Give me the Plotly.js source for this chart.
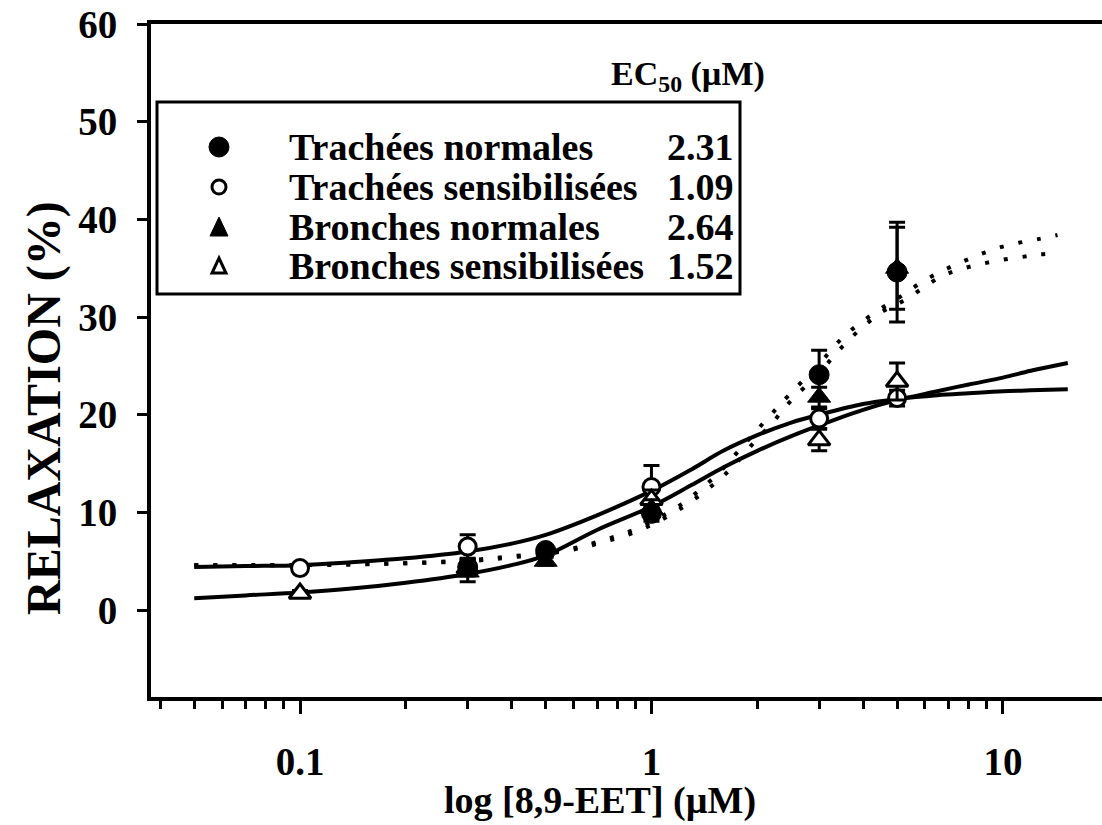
<!DOCTYPE html>
<html><head><meta charset="utf-8">
<script src="https://cdn.plot.ly/plotly-3.0.1.min.js"></script>
<style>html,body{margin:0;padding:0;background:#fff}</style>
</head><body><div id="chart" style="width:1102px;height:825px"></div>
<script>
// ---- data ----
const seriesNames = ["Trachées normales", "Trachées sensibilisées", "Bronches normales", "Bronches sensibilisées"];
const ec50Values = ["2.31", "1.09", "2.64", "1.52"];

const trachNormX = [0.3, 0.5, 1, 3, 5];
const trachNormY = [4.4, 6.1, 9.9, 24.1, 34.6];
const trachNormErr = [0.8, 0.5, 0.8, 2.5, 5.1];

const trachSensX = [0.1, 0.3, 1, 3, 5];
const trachSensY = [4.3, 6.5, 12.6, 19.6, 21.7];
const trachSensErr = [0.4, 1.2, 2.2, 1.0, 0.8];

const bronNormX = [0.3, 0.5, 1, 3, 5];
const bronNormY = [3.9, 5.0, 10.4, 21.8, 35.0];
const bronNormErr = [1.0, 0.4, 0.9, 1.0, 4.2];

const bronSensX = [0.1, 0.3, 1, 3, 5];
const bronSensY = [1.7, 4.3, 11.3, 17.4, 23.4];
const bronSensErr = [0.3, 0.8, 1.0, 1.1, 1.9];

// fitted curves
const fitSolidX = [0.05, 0.07, 0.1, 0.14, 0.2, 0.3, 0.4, 0.5, 0.7, 1.0, 1.3, 1.6, 2.0, 2.5, 3, 4, 5, 6.5, 8, 10, 12, 15.3];
const fitTrachSensY = [4.4, 4.5, 4.6, 4.9, 5.3, 6.0, 6.8, 7.7, 9.7, 12.2, 14.4, 16.3, 17.9, 19.2, 20.0, 21.1, 21.6, 22.0, 22.2, 22.4, 22.5, 22.6];
const fitBronSensY = [1.2, 1.5, 1.8, 2.2, 2.8, 3.7, 4.6, 5.6, 8.2, 10.6, 12.8, 14.6, 16.3, 17.8, 18.9, 20.5, 21.5, 22.4, 23.1, 23.8, 24.5, 25.3];

const fitDotX = [0.05, 0.1, 0.2, 0.3, 0.4, 0.56, 0.72, 0.93, 1.2, 1.53, 1.75, 1.96, 2.2, 2.46, 3.0, 3.5, 4.0, 4.56, 5.17, 5.89, 6.7, 7.6, 8.6, 9.75, 11.1, 12.7, 14.3];
const fitTrachNormY = [4.6, 4.6, 4.8, 5.1, 5.5, 6.1, 7.1, 8.5, 10.7, 13.8, 16.1, 18.1, 20.1, 22.0, 25.2, 27.9, 29.6, 31.0, 32.2, 33.6, 34.7, 35.6, 36.4, 37.1, 37.6, 38.0, 38.4];
const fitBronNormY = [4.6, 4.6, 4.8, 5.0, 5.4, 6.0, 6.9, 8.2, 10.3, 13.1, 15.1, 17.2, 19.1, 21.2, 24.3, 27.0, 29.0, 30.6, 31.6, 32.9, 34.2, 34.9, 35.4, 35.8, 36.1, 36.4, 36.5];

const xMajorTicks = [0.1, 1, 10];
const xMajorLabels = ["0.1", "1", "10"];
const xMinorTicks = [0.04, 0.05, 0.06, 0.07, 0.08, 0.09, 0.2, 0.3, 0.4, 0.5, 0.6, 0.7, 0.8, 0.9, 2, 3, 4, 5, 6, 7, 8, 9];
const yTicks = [0, 10, 20, 30, 40, 50, 60];

// ---- layout helpers (pixel -> paper) ----
const L = 151, R = 1102, T = 24, B = 697;
const px = v => (v - L) / (R - L);
const py = v => (B - v) / (B - T);
const FONT = "Liberation Serif, Times New Roman, serif";

const solidLine = {color: "black", width: 4, shape: "spline", smoothing: 1};
const dotLine = {color: "black", width: 4, dash: "4px,15px", shape: "spline", smoothing: 1};
const errStyle = arr => ({type: "data", array: arr, visible: true, color: "black", thickness: 3, width: 8});

const traces = [
  {x: fitSolidX, y: fitTrachSensY, mode: "lines", line: solidLine, hoverinfo: "skip"},
  {x: fitSolidX, y: fitBronSensY, mode: "lines", line: solidLine, hoverinfo: "skip"},
  {x: fitDotX, y: fitTrachNormY, mode: "lines", line: dotLine, hoverinfo: "skip"},
  {x: fitDotX, y: fitBronNormY, mode: "lines", line: dotLine, hoverinfo: "skip"},
  {name: seriesNames[1], x: trachSensX, y: trachSensY, mode: "markers", error_y: errStyle(trachSensErr),
   marker: {symbol: "circle", size: 17, color: "white", line: {color: "black", width: 3}}},
  {name: seriesNames[3], x: bronSensX, y: bronSensY, mode: "markers", error_y: errStyle(bronSensErr),
   marker: {symbol: "triangle-up", size: 19, color: "white", line: {color: "black", width: 3}}},
  {name: seriesNames[2], x: bronNormX, y: bronNormY, mode: "markers", error_y: errStyle(bronNormErr),
   marker: {symbol: "triangle-up", size: 20, color: "black", line: {color: "black", width: 1}}},
  {name: seriesNames[0], x: trachNormX, y: trachNormY, mode: "markers", error_y: errStyle(trachNormErr),
   marker: {symbol: "circle", size: 20, color: "black", line: {color: "black", width: 1}}}
];

// legend drawn as box + symbols + text
const rows = [147, 187, 227, 266];
const symX = 219, textX = 287, valX = 736;
const shapes = [
  {type: "rect", xref: "paper", yref: "paper", x0: px(157), x1: px(740), y0: py(102), y1: py(294),
   line: {color: "black", width: 3}, fillcolor: "rgba(0,0,0,0)"}
];
const legendSymbols = [
  {kind: "circle", fill: "black"}, {kind: "circle", fill: "white"},
  {kind: "tri", fill: "black"}, {kind: "tri", fill: "white"}
];
legendSymbols.forEach((s, i) => {
  const base = {xref: "paper", yref: "paper", xsizemode: "pixel", ysizemode: "pixel",
    xanchor: px(symX), yanchor: py(rows[i]), line: {color: "black", width: s.fill === "white" ? 3 : 1}, fillcolor: s.fill};
  if (s.kind === "circle") {
    const r = s.fill === "white" ? 7 : 10;
    shapes.push(Object.assign({type: "circle", x0: -r, x1: r, y0: -r, y1: r}, base));
  } else {
    const h = s.fill === "white" ? 7 : 9;
    shapes.push(Object.assign({type: "path", path: `M${-h},${-h} L${h},${-h} L0,${h + 1} Z`}, base));
  }
});

const annotations = [];
const legFont = {family: FONT, size: 38, color: "black", weight: "bold"};
seriesNames.forEach((n, i) => {
  annotations.push({text: n, xref: "paper", yref: "paper", x: px(textX), y: py(rows[i]), xanchor: "left", yanchor: "middle",
    showarrow: false, font: legFont});
  annotations.push({text: ec50Values[i], xref: "paper", yref: "paper", x: px(valX), y: py(rows[i]), xanchor: "right", yanchor: "middle",
    showarrow: false, font: legFont});
});
annotations.push({text: "EC<sub>50</sub> (µM)", xref: "paper", yref: "paper", x: px(688), y: py(76), xanchor: "center", yanchor: "middle",
  showarrow: false, font: {family: FONT, size: 34, color: "black", weight: "bold"}});
annotations.push({text: "log [8,9-EET] (µM)", xref: "paper", yref: "paper", x: px(600), y: py(801), xanchor: "center", yanchor: "middle",
  showarrow: false, font: {family: FONT, size: 38, color: "black", weight: "bold"}});
annotations.push({text: "RELAXATION (%)", xref: "paper", yref: "paper", x: px(44), y: py(408), xanchor: "center", yanchor: "middle",
  textangle: -90, showarrow: false, font: {family: FONT, size: 48, color: "black", weight: "bold"}});

const tickFont = {family: FONT, size: 39, color: "black", weight: "bold"};
const layout = {
  width: 1102, height: 825,
  margin: {l: L, r: 1102 - R, t: T, b: 825 - B, pad: 0},
  paper_bgcolor: "white", plot_bgcolor: "white",
  showlegend: false,
  xaxis: {type: "log", range: [-1.424, 1.282], showgrid: false, zeroline: false,
    showline: true, linecolor: "black", linewidth: 4, mirror: true,
    ticks: "outside", tickmode: "array", tickvals: xMajorTicks, ticktext: xMajorLabels,
    ticklen: 13, tickwidth: 3, tickcolor: "black", tickfont: tickFont, ticklabelstandoff: 14,
    minor: {tickmode: "array", tickvals: xMinorTicks, ticks: "outside", ticklen: 8, tickwidth: 3, tickcolor: "black", showgrid: false}},
  yaxis: {range: [-8.9, 60], showgrid: false, zeroline: false,
    showline: true, linecolor: "black", linewidth: 4, mirror: false,
    ticks: "outside", tickmode: "array", tickvals: yTicks, ticklen: 10, tickwidth: 3, tickcolor: "black",
    tickfont: tickFont, ticklabelstandoff: 12},
  shapes: shapes,
  annotations: annotations
};

Plotly.newPlot("chart", traces, layout, {displayModeBar: false, staticPlot: true});
</script></body></html>
